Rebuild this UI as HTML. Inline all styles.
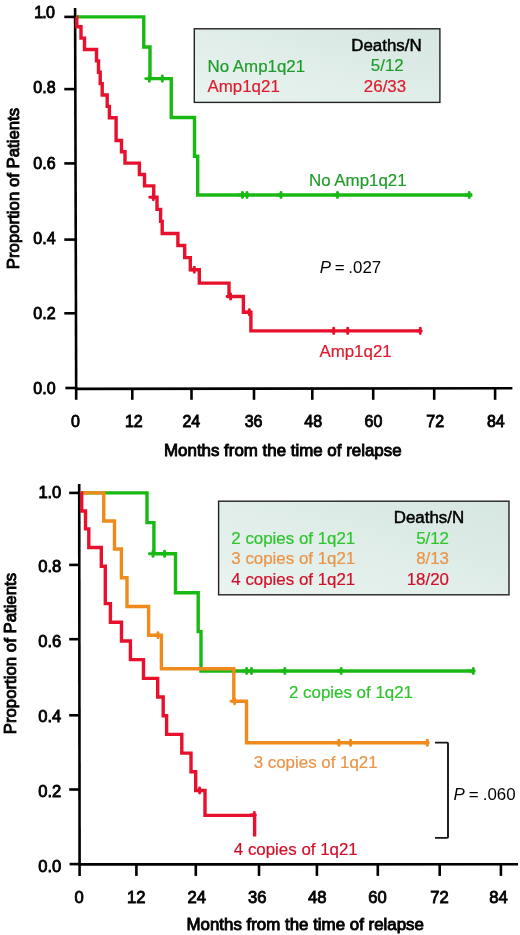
<!DOCTYPE html>
<html><head><meta charset="utf-8"><title>Figure</title>
<style>
html,body{margin:0;padding:0;background:#fff;}
body{width:520px;height:935px;overflow:hidden;}
svg{display:block;will-change:transform;}
text{font-family:"Liberation Sans",sans-serif;font-size:16.9px;fill:#000;}
.t{font-size:16px;stroke:#000;stroke-width:0.85px;}
.b{stroke:#000;stroke-width:0.9px;}
.h{stroke:#000;stroke-width:0.5px;font-size:16.9px;}
</style></head><body>
<svg width="520" height="935" viewBox="0 0 520 935">
<defs>
<linearGradient id="lg" x1="0" y1="1" x2="1" y2="0">
<stop offset="0" stop-color="#eaf4f0"/><stop offset="1" stop-color="#d6e6e0"/>
</linearGradient>
</defs>
<rect width="520" height="935" fill="#fff"/>
<!-- chart 1 -->
<path d="M75.1,8L76.2,399.8" stroke="#000" stroke-width="2.6" fill="none"/>
<path d="M65.4,388.0H76.2" stroke="#000" stroke-width="2.6" fill="none"/>
<path d="M75.2,388.90000000000003L512.4,388.2" stroke="#000" stroke-width="2.6" fill="none"/>
<path d="M64.3,16.9H75.6" stroke="#000" stroke-width="2.6" fill="none"/>
<path d="M64.3,89.1H75.6" stroke="#000" stroke-width="2.6" fill="none"/>
<path d="M64.3,163.4H75.6" stroke="#000" stroke-width="2.6" fill="none"/>
<path d="M64.3,239.6H75.6" stroke="#000" stroke-width="2.6" fill="none"/>
<path d="M64.3,313.3H75.6" stroke="#000" stroke-width="2.6" fill="none"/>
<path d="M132.3,388.3V399.8" stroke="#000" stroke-width="2.6" fill="none"/>
<path d="M191.5,388.3V399.8" stroke="#000" stroke-width="2.6" fill="none"/>
<path d="M254,388.3V399.8" stroke="#000" stroke-width="2.6" fill="none"/>
<path d="M312.3,388.3V399.8" stroke="#000" stroke-width="2.6" fill="none"/>
<path d="M373.2,388.3V399.8" stroke="#000" stroke-width="2.6" fill="none"/>
<path d="M434.2,388.3V399.8" stroke="#000" stroke-width="2.6" fill="none"/>
<path d="M495.1,388.3V399.8" stroke="#000" stroke-width="2.6" fill="none"/>
<text x="54.0" y="18.2" text-anchor="end" class="t" style="letter-spacing:-0.8px;font-size:16px">1.0</text>
<text x="55.6" y="93.4" text-anchor="end" class="t" style="font-size:16px">0.8</text>
<text x="55.6" y="168.6" text-anchor="end" class="t" style="font-size:16px">0.6</text>
<text x="55.6" y="244.0" text-anchor="end" class="t" style="font-size:16px">0.4</text>
<text x="55.6" y="319.1" text-anchor="end" class="t" style="font-size:16px">0.2</text>
<text x="55.6" y="394.1" text-anchor="end" class="t" style="font-size:16px">0.0</text>
<text x="75.5" y="427" text-anchor="middle" class="t" style="font-size:16px">0</text>
<text x="133.8" y="427" text-anchor="middle" class="t" style="font-size:16px">12</text>
<text x="191.3" y="427" text-anchor="middle" class="t" style="font-size:16px">24</text>
<text x="253.6" y="427" text-anchor="middle" class="t" style="font-size:16px">36</text>
<text x="313.2" y="427" text-anchor="middle" class="t" style="font-size:16px">48</text>
<text x="373.5" y="427" text-anchor="middle" class="t" style="font-size:16px">60</text>
<text x="435.2" y="427" text-anchor="middle" class="t" style="font-size:16px">72</text>
<text x="495.8" y="427" text-anchor="middle" class="t" style="font-size:16px">84</text>

<text class="b" transform="translate(18.5,188.5) rotate(-90)" text-anchor="middle" style="font-size:16.8px">Proportion of Patients</text>
<text class="b" x="282.8" y="456" text-anchor="middle" style="font-size:16.9px">Months from the time of relapse</text>
<path d="M76.50,16.90 L143.75,16.90 L143.75,47.00 L150.00,47.00 L150.00,78.60 L171.25,78.60 L171.25,117.50 L194.50,117.50 L194.50,156.30 L197.70,156.30 L197.70,195.00 L472.40,195.00" fill="none" stroke="#19b914" stroke-width="3.4" stroke-linejoin="miter" stroke-linecap="butt"/>
<path d="M149.30,76.00V81.20M145.70,78.60H150.30" stroke="#19b914" stroke-width="2.9" stroke-linecap="round" fill="none"/>
<path d="M162.30,76.00V81.20M158.70,78.60H163.30" stroke="#19b914" stroke-width="2.9" stroke-linecap="round" fill="none"/>
<path d="M242.50,192.40V197.60M238.90,195.00H243.50" stroke="#19b914" stroke-width="2.9" stroke-linecap="round" fill="none"/>
<path d="M247.00,192.40V197.60M243.40,195.00H248.00" stroke="#19b914" stroke-width="2.9" stroke-linecap="round" fill="none"/>
<path d="M281.00,192.40V197.60M277.40,195.00H282.00" stroke="#19b914" stroke-width="2.9" stroke-linecap="round" fill="none"/>
<path d="M337.50,192.40V197.60M333.90,195.00H338.50" stroke="#19b914" stroke-width="2.9" stroke-linecap="round" fill="none"/>
<path d="M469.20,192.40V197.60M465.60,195.00H470.20" stroke="#19b914" stroke-width="2.9" stroke-linecap="round" fill="none"/>
<path d="M76.50,16.90 L76.80,16.90 L76.80,26.77 L81.00,26.77 L81.00,38.13 L84.50,38.13 L84.50,49.50 L96.50,49.50 L96.50,60.87 L98.50,60.87 L98.50,72.23 L100.20,72.23 L100.20,83.60 L102.20,83.60 L102.20,94.97 L107.20,94.97 L107.20,106.33 L109.40,106.33 L109.40,117.70 L116.10,117.70 L116.10,129.07 L116.10,140.43 L121.50,140.43 L121.50,151.80 L125.00,151.80 L125.00,163.17 L139.40,163.17 L139.40,174.53 L144.50,174.53 L144.50,185.90 L153.75,185.90 L153.75,197.27 L157.00,197.27 L157.00,209.34 L160.60,209.34 L160.60,221.42 L162.20,221.42 L162.20,233.50 L177.90,233.50 L177.90,245.57 L184.70,245.57 L184.70,257.65 L190.30,257.65 L190.30,269.73 L199.30,269.73 L199.30,283.15 L229.00,283.15 L229.00,296.57 L243.40,296.57 L243.40,312.22 L250.90,312.22 L250.90,330.90 L421.00,330.90" fill="none" stroke="#e8112d" stroke-width="3.4" stroke-linejoin="miter" stroke-linecap="butt"/>
<path d="M153.30,194.67V199.87M149.70,197.27H154.30" stroke="#e8112d" stroke-width="2.9" stroke-linecap="round" fill="none"/>
<path d="M194.30,267.13V272.33M190.70,269.73H195.30" stroke="#e8112d" stroke-width="2.9" stroke-linecap="round" fill="none"/>
<path d="M230.60,293.97V299.17M227.00,296.57H231.60" stroke="#e8112d" stroke-width="2.9" stroke-linecap="round" fill="none"/>
<path d="M249.30,309.62V314.82M245.70,312.22H250.30" stroke="#e8112d" stroke-width="2.9" stroke-linecap="round" fill="none"/>
<path d="M333.70,328.30V333.50M330.10,330.90H334.70" stroke="#e8112d" stroke-width="2.9" stroke-linecap="round" fill="none"/>
<path d="M347.70,328.30V333.50M344.10,330.90H348.70" stroke="#e8112d" stroke-width="2.9" stroke-linecap="round" fill="none"/>
<path d="M420.30,328.30V333.50M416.70,330.90H421.30" stroke="#e8112d" stroke-width="2.9" stroke-linecap="round" fill="none"/>

<rect x="194.3" y="28.8" width="245.6" height="73.6" fill="url(#lg)" stroke="#222" stroke-width="1.4"/>
<text class="h" x="386.5" y="50.8" text-anchor="middle">Deaths/N</text>
<text x="207.5" y="71.6" style="fill:#1f9c2a;stroke:#1f9c2a;stroke-width:.2px">No Amp1q21</text>
<text x="387.3" y="71.3" text-anchor="middle" style="fill:#1f9c2a;stroke:#1f9c2a;stroke-width:.2px">5/12</text>
<text x="207.5" y="92" style="fill:#df1a2e;stroke:#df1a2e;stroke-width:.2px">Amp1q21</text>
<text x="385" y="92" text-anchor="middle" style="fill:#df1a2e;stroke:#df1a2e;stroke-width:.2px">26/33</text>
<text x="309" y="186" style="fill:#1f9c2a;stroke:#1f9c2a;stroke-width:.2px">No Amp1q21</text>
<text x="319.4" y="356.5" style="fill:#df1a2e;stroke:#df1a2e;stroke-width:.2px">Amp1q21</text>
<text x="319.8" y="272.5" style="word-spacing:-1px"><tspan font-style="italic">P</tspan> = .027</text>
<!-- chart 2 -->
<path d="M79.2,484L79.6,875.9" stroke="#000" stroke-width="2.6" fill="none"/>
<path d="M69.6,864.1H79.6" stroke="#000" stroke-width="2.6" fill="none"/>
<path d="M78.6,864.4L518,864.3" stroke="#000" stroke-width="2.6" fill="none"/>
<path d="M69.2,492.9H79.7" stroke="#000" stroke-width="2.6" fill="none"/>
<path d="M69.2,564.9H79.7" stroke="#000" stroke-width="2.6" fill="none"/>
<path d="M69.2,639.2H79.7" stroke="#000" stroke-width="2.6" fill="none"/>
<path d="M69.2,715.3H79.7" stroke="#000" stroke-width="2.6" fill="none"/>
<path d="M69.2,789.5H79.7" stroke="#000" stroke-width="2.6" fill="none"/>
<path d="M136.4,864.4V875.9" stroke="#000" stroke-width="2.6" fill="none"/>
<path d="M195.8,864.4V875.9" stroke="#000" stroke-width="2.6" fill="none"/>
<path d="M259,864.4V875.9" stroke="#000" stroke-width="2.6" fill="none"/>
<path d="M316.9,864.4V875.9" stroke="#000" stroke-width="2.6" fill="none"/>
<path d="M377.8,864.4V875.9" stroke="#000" stroke-width="2.6" fill="none"/>
<path d="M439.7,864.4V875.9" stroke="#000" stroke-width="2.6" fill="none"/>
<path d="M500.9,864.4V875.9" stroke="#000" stroke-width="2.6" fill="none"/>
<text x="61.0" y="497.8" text-anchor="end" class="t" style="letter-spacing:-0.2px;font-size:16.6px">1.0</text>
<text x="61.3" y="571.9" text-anchor="end" class="t" style="font-size:16.6px">0.8</text>
<text x="61.3" y="646.8" text-anchor="end" class="t" style="font-size:16.6px">0.6</text>
<text x="61.3" y="721.8" text-anchor="end" class="t" style="font-size:16.6px">0.4</text>
<text x="61.3" y="796.5" text-anchor="end" class="t" style="font-size:16.6px">0.2</text>
<text x="61.3" y="871.8" text-anchor="end" class="t" style="font-size:16.6px">0.0</text>
<text x="79" y="902.8" text-anchor="middle" class="t" style="font-size:16.6px">0</text>
<text x="136.3" y="902.8" text-anchor="middle" class="t" style="font-size:16.6px">12</text>
<text x="196.8" y="902.8" text-anchor="middle" class="t" style="font-size:16.6px">24</text>
<text x="257.3" y="902.8" text-anchor="middle" class="t" style="font-size:16.6px">36</text>
<text x="317.3" y="902.8" text-anchor="middle" class="t" style="font-size:16.6px">48</text>
<text x="377.5" y="902.8" text-anchor="middle" class="t" style="font-size:16.6px">60</text>
<text x="439.6" y="902.8" text-anchor="middle" class="t" style="font-size:16.6px">72</text>
<text x="498.4" y="902.8" text-anchor="middle" class="t" style="font-size:16.6px">84</text>

<text class="b" transform="translate(16.4,653.6) rotate(-90)" text-anchor="middle" style="font-size:16.8px">Proportion of Patients</text>
<text class="b" x="305.2" y="930.3" text-anchor="middle" style="font-size:16.9px">Months from the time of relapse</text>
<path d="M80.50,492.90 L147.00,492.90 L147.00,522.64 L153.90,522.64 L153.90,553.78 L175.50,553.78 L175.50,592.71 L198.20,592.71 L198.20,631.64 L201.00,631.64 L201.00,671.00 L474.00,671.00" fill="none" stroke="#19b914" stroke-width="3.4" stroke-linejoin="miter" stroke-linecap="butt"/>
<path d="M153.00,551.18V556.38M149.40,553.78H154.00" stroke="#19b914" stroke-width="2.9" stroke-linecap="round" fill="none"/>
<path d="M164.60,551.18V556.38M161.00,553.78H165.60" stroke="#19b914" stroke-width="2.9" stroke-linecap="round" fill="none"/>
<path d="M246.60,668.40V673.60M243.00,671.00H247.60" stroke="#19b914" stroke-width="2.9" stroke-linecap="round" fill="none"/>
<path d="M251.50,668.40V673.60M247.90,671.00H252.50" stroke="#19b914" stroke-width="2.9" stroke-linecap="round" fill="none"/>
<path d="M284.80,668.40V673.60M281.20,671.00H285.80" stroke="#19b914" stroke-width="2.9" stroke-linecap="round" fill="none"/>
<path d="M341.20,668.40V673.60M337.60,671.00H342.20" stroke="#19b914" stroke-width="2.9" stroke-linecap="round" fill="none"/>
<path d="M473.30,668.40V673.60M469.70,671.00H474.30" stroke="#19b914" stroke-width="2.9" stroke-linecap="round" fill="none"/>
<path d="M80.50,492.90 L103.75,492.90 L103.75,521.00 L114.50,521.00 L114.50,548.99 L121.40,548.99 L121.40,577.74 L127.00,577.74 L127.00,606.48 L148.60,606.48 L148.60,635.23 L161.40,635.23 L161.40,668.70 L233.80,668.70 L233.80,701.20 L246.50,701.20 L246.50,742.80 L428.60,742.80" fill="none" stroke="#f08a1c" stroke-width="3.4" stroke-linejoin="miter" stroke-linecap="butt"/>
<path d="M158.00,632.63V637.83M154.40,635.23H159.00" stroke="#f08a1c" stroke-width="2.9" stroke-linecap="round" fill="none"/>
<path d="M234.60,698.60V703.80M231.00,701.20H235.60" stroke="#f08a1c" stroke-width="2.9" stroke-linecap="round" fill="none"/>
<path d="M338.90,740.20V745.40M335.30,742.80H339.90" stroke="#f08a1c" stroke-width="2.9" stroke-linecap="round" fill="none"/>
<path d="M350.60,740.20V745.40M347.00,742.80H351.60" stroke="#f08a1c" stroke-width="2.9" stroke-linecap="round" fill="none"/>
<path d="M427.30,740.20V745.40M423.70,742.80H428.30" stroke="#f08a1c" stroke-width="2.9" stroke-linecap="round" fill="none"/>
<path d="M80.50,492.90 L81.70,492.90 L81.70,511.00 L85.50,511.00 L85.50,528.87 L88.80,528.87 L88.80,547.56 L101.30,547.56 L101.30,566.24 L105.30,566.24 L105.30,584.93 L105.30,603.61 L110.40,603.61 L110.40,622.30 L121.50,622.30 L121.50,640.98 L130.40,640.98 L130.40,659.67 L143.50,659.67 L143.50,678.35 L157.70,678.35 L157.70,697.04 L163.20,697.04 L163.20,715.72 L166.60,715.72 L166.60,734.40 L181.80,734.40 L181.80,753.09 L191.00,753.09 L191.00,771.78 L195.70,771.78 L195.70,790.46 L205.00,790.46 L205.00,815.37 L254.60,815.37 L254.60,836.60 L254.60,836.60" fill="none" stroke="#e8112d" stroke-width="3.4" stroke-linejoin="miter" stroke-linecap="butt"/>
<path d="M199.60,787.86V793.06M196.00,790.46H200.60" stroke="#e8112d" stroke-width="2.9" stroke-linecap="round" fill="none"/>
<path d="M254.30,812.40V817.60M250.70,815.00H255.30" stroke="#e8112d" stroke-width="2.9" stroke-linecap="round" fill="none"/>

<rect x="218.6" y="501.2" width="290.4" height="93.6" fill="url(#lg)" stroke="#222" stroke-width="1.4"/>
<text class="h" x="429" y="523.3" text-anchor="middle">Deaths/N</text>
<text x="231.3" y="543.8" style="fill:#2ec52e;stroke:#2ec52e;stroke-width:.2px">2 copies of 1q21</text>
<text x="449" y="543.8" text-anchor="end" style="fill:#2ec52e;stroke:#2ec52e;stroke-width:.2px">5/12</text>
<text x="231.3" y="564.2" style="fill:#ea9448;stroke:#ea9448;stroke-width:.2px">3 copies of 1q21</text>
<text x="449" y="564.2" text-anchor="end" style="fill:#ea9448;stroke:#ea9448;stroke-width:.2px">8/13</text>
<text x="231.3" y="584.5" style="fill:#d20f28;stroke:#d20f28;stroke-width:.2px">4 copies of 1q21</text>
<text x="449" y="584.5" text-anchor="end" style="fill:#d20f28;stroke:#d20f28;stroke-width:.2px">18/20</text>
<text x="289" y="697.5" style="fill:#2ec52e;stroke:#2ec52e;stroke-width:.2px">2 copies of 1q21</text>
<text x="253.7" y="768.4" style="fill:#ea9448;stroke:#ea9448;stroke-width:.2px">3 copies of 1q21</text>
<text x="233.8" y="854.6" style="fill:#d20f28;stroke:#d20f28;stroke-width:.2px">4 copies of 1q21</text>
<path d="M435,742.6H447.2Q448,742.6 448,743.4V837.1Q448,837.9 447.2,837.9H435" fill="none" stroke="#151515" stroke-width="1.9"/>
<text x="453.6" y="800" style="word-spacing:-0.7px"><tspan font-style="italic">P</tspan> = .060</text>
</svg>
</body></html>
